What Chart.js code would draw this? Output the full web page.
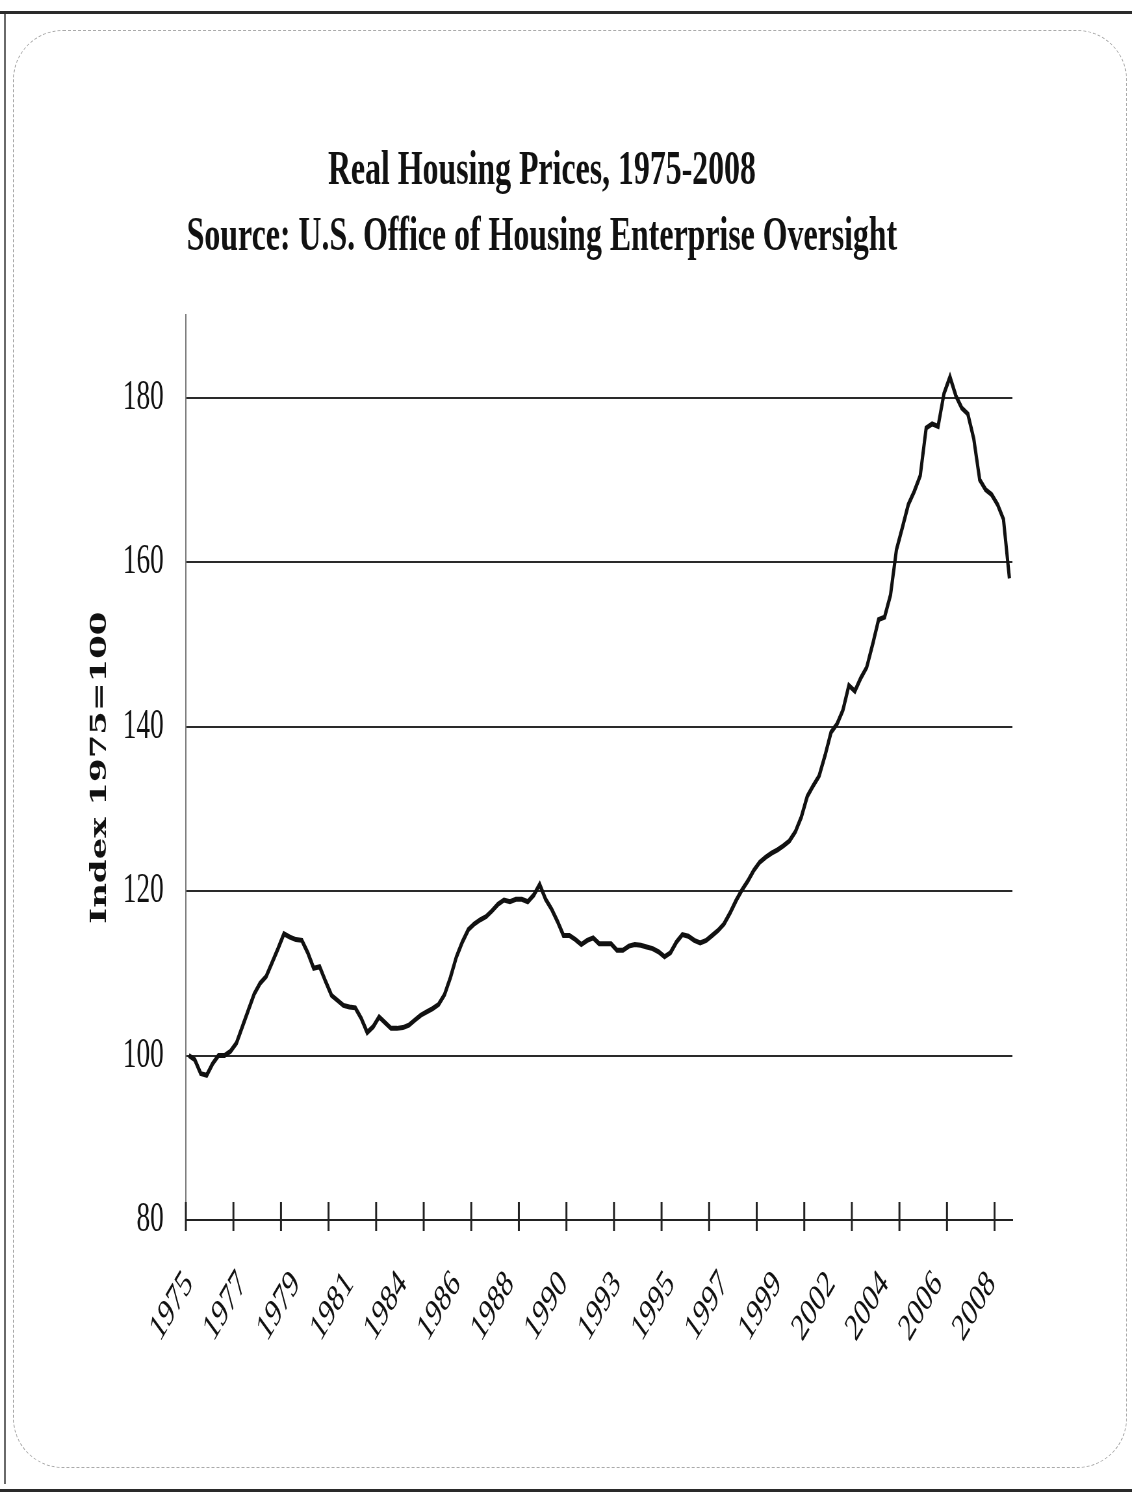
<!DOCTYPE html>
<html>
<head>
<meta charset="utf-8">
<script src="https://cdn.jsdelivr.net/npm/chart.js@4"></script>
<style>
  html, body { margin:0; padding:0; background:#fff; width:1132px; height:1493px; overflow:hidden; }
  #wrap { position:relative; width:1132px; height:1493px; }
  #chart { position:absolute; left:0; top:0; width:1742px; height:1493px; transform:scaleX(0.6498); transform-origin:0 0; }
  .frame { position:absolute; left:13px; top:30px; width:1112px; height:1436px; border:1px dashed #aaaaaa; border-radius:50px; }
  .topline { position:absolute; left:0; top:11px; width:1132px; height:3px; background:#2a2a2a; }
  .leftline { position:absolute; left:4px; top:14px; width:2px; height:1470px; background:#6a6a6a; }
  .botline { position:absolute; left:0; top:1489px; width:1132px; height:3px; background:#2a2a2a; }
</style>
</head>
<body>
<div id="wrap">
  <div class="topline"></div>
  <div class="leftline"></div>
  <div class="botline"></div>
  <div class="frame"></div>
  <canvas id="chart" width="1742" height="1493"></canvas>
</div>
<script>
// ---- data (quarterly, starting 1975 Q1) ----
const startYear = 1975;
const tickLabels = ['1975','1977','1979','1981','1984','1986','1988','1990','1993','1995','1997','1999','2002','2004','2006','2008'];
const hpi = [
  100, 99.5, 97.8, 97.6, 99, 100, 100, 100.5, 101.5, 103.5,
  105.5, 107.5, 108.8, 109.6, 111.3, 113, 114.8, 114.4, 114.1, 114,
  112.5, 110.6, 110.8, 109, 107.3, 106.7, 106.1, 105.9, 105.8, 104.5,
  102.8, 103.5, 104.7, 104, 103.3, 103.3, 103.4, 103.7, 104.3, 104.9,
  105.3, 105.7, 106.2, 107.4, 109.5, 112, 113.8, 115.3, 116, 116.5,
  116.9, 117.6, 118.4, 118.9, 118.7, 119, 119, 118.7, 119.5, 120.8,
  119, 117.8, 116.3, 114.6, 114.6, 114.1, 113.5, 114, 114.3, 113.6,
  113.6, 113.6, 112.8, 112.8, 113.3, 113.5, 113.4, 113.2, 113, 112.6,
  112, 112.5, 113.8, 114.7, 114.5, 114, 113.7, 114, 114.6, 115.2,
  116, 117.3, 118.8, 120.1, 121.2, 122.5, 123.5, 124.1, 124.6, 125,
  125.5, 126.1, 127.2, 129, 131.5, 132.8, 134, 136.5, 139.3, 140.3,
  142, 145, 144.3, 145.9, 147.2, 150, 153, 153.3, 156, 161.5,
  164.2, 167, 168.6, 170.5, 176.3, 176.8, 176.5, 180.5, 182.5, 180.2,
  178.7, 178, 175, 170, 168.8, 168.2, 167, 165.2, 158
];
const categories = hpi.map((v, i) => (startYear + Math.floor(i / 4)) + ' Q' + (i % 4 + 1));
const labelEvery = 9;   // one year label every 9 quarters
const tickEvery = 8;    // one tick mark every 8 quarters

const titleLines = ['Real Housing Prices, 1975-2008', 'Source: U.S. Office of Housing Enterprise Oversight'];
const yTitle = 'Index 1975=100';

const crossTicks = {
  id: 'crossTicks',
  afterDraw(chart) {
    const xs = chart.scales.x, ys = chart.scales.y, ctx = chart.ctx;
    ctx.save();
    ctx.strokeStyle = '#222';
    ctx.lineWidth = 3;
    for (let i = 0; i <= categories.length; i += tickEvery) {
      const px = xs.getPixelForValue(i - 0.5);
      ctx.beginPath();
      ctx.moveTo(px, ys.bottom - 18);
      ctx.lineTo(px, ys.bottom + 11);
      ctx.stroke();
    }
    ctx.restore();
  }
};

new Chart(document.getElementById('chart'), {
  type: 'line',
  data: {
    labels: categories,
    datasets: [{
      data: hpi,
      borderColor: '#111',
      borderWidth: 5,
      pointRadius: 0,
      tension: 0,
      fill: false
    }]
  },
  options: {
    responsive: false,
    devicePixelRatio: 1,
    animation: false,
    layout: { padding: { left: 110, right: 184, top: 0, bottom: 0 } },
    plugins: {
      legend: { display: false },
      tooltip: { enabled: false },
      title: {
        display: true,
        text: titleLines,
        color: '#111',
        font: { family: '"Liberation Serif", "Times New Roman", serif', size: 49, weight: 'bold', lineHeight: 1.35 },
        padding: { top: 138, bottom: 45 }
      }
    },
    scales: {
      x: {
        type: 'category',
        offset: true,
        grid: { display: true, drawOnChartArea: false, drawTicks: false },
        border: { display: true, color: '#222', width: 2 },
        ticks: {
          autoSkip: false,
          minRotation: 48,
          maxRotation: 48,
          padding: 42,
          color: '#111',
          font: { family: '"Liberation Serif", "Times New Roman", serif', size: 39 },
          callback: (v, i) => (i % labelEvery === 0 ? tickLabels[i / labelEvery] : null)
        },
        afterFit: (s) => { s.height = 273; }
      },
      y: {
        min: 80,
        max: 190,
        ticks: {
          stepSize: 20,
          padding: 34,
          color: '#111',
          font: { family: '"Liberation Serif", "Times New Roman", serif', size: 42 }
        },
        afterBuildTicks: (s) => { s.ticks = s.ticks.filter(t => t.value % 20 === 0); },
        grid: { color: '#2a2a2a', lineWidth: 2, drawTicks: false },
        border: { display: true, color: '#777', width: 2 },
        title: {
          display: true,
          text: yTitle,
          color: '#111',
          font: { family: '"DejaVu Serif", serif', size: 34, weight: 'bold', lineHeight: 1.2 },
          padding: { top: 24, bottom: 0 }
        },
        afterFit: (s) => { s.width = 176; }
      }
    }
  },
  plugins: [crossTicks]
});
</script>
</body>
</html>
